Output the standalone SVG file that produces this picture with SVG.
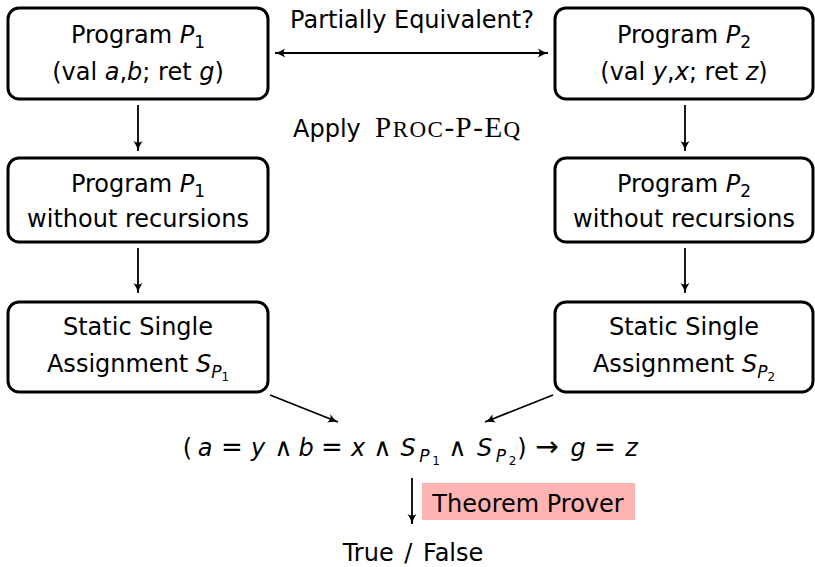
<svg xmlns="http://www.w3.org/2000/svg" width="815" height="567" viewBox="0 0 815 567">
<defs>
<marker id="ah" markerWidth="12" markerHeight="10" refX="10" refY="5" orient="auto" markerUnits="userSpaceOnUse">
<path d="M0,0.5 Q5,4 10,5 Q5,6 0,9.5 Q3,5 0,0.5 Z" fill="#000"/>
</marker>
<marker id="ahs" markerWidth="12" markerHeight="10" refX="0" refY="5" orient="auto" markerUnits="userSpaceOnUse">
<path d="M10,0.5 Q5,4 0,5 Q5,6 10,9.5 Q7,5 10,0.5 Z" fill="#000"/>
</marker>
</defs>
<style>
.box{fill:#fff;stroke:#000;stroke-width:3}
.t{font-family:"DejaVu Sans","Liberation Sans",sans-serif;font-size:24px;fill:#000}
.m{text-anchor:middle}
.i{font-style:italic}
.op{font-size:26px}
.w{font-size:25px}
.ar{font-size:28px}
.c{stroke:#000;stroke-width:1.8;fill:none;marker-end:url(#ah)}
</style>
<rect width="815" height="567" fill="#fff"/>
<g id="connectors">
<line x1="275" y1="53" x2="548" y2="53" class="c" style="marker-start:url(#ahs)"/>
<line x1="138" y1="105" x2="138" y2="151" class="c"/>
<line x1="138" y1="248" x2="138" y2="293" class="c"/>
<line x1="685" y1="105" x2="685" y2="151" class="c"/>
<line x1="685" y1="248" x2="685" y2="293" class="c"/>
<line x1="270" y1="395" x2="338" y2="422" class="c"/>
<line x1="553" y1="395" x2="485" y2="422" class="c"/>
<line x1="412" y1="478" x2="412" y2="524" class="c"/>
</g>
<g id="label-pe"><text x="412" y="28" class="t m">Partially Equivalent?</text></g>
<g id="label-apply"><text x="293" y="137" class="t">Apply<tspan x="375" font-family="'Liberation Serif',serif" font-size="29" letter-spacing="1.5">P<tspan font-size="23">ROC</tspan>-P-E<tspan font-size="23">Q</tspan></tspan></text></g>
<g id="p1">
<rect x="8" y="8" width="260" height="91" rx="11" class="box"/>
<text x="138" y="43" class="t m">Program <tspan class="i">P</tspan><tspan font-size="17" dy="5">1</tspan></text>
<text x="138" y="80" class="t m" font-size="25">(val <tspan class="i">a</tspan>,<tspan class="i">b</tspan>; ret <tspan class="i">g</tspan>)</text>
</g>
<g id="p2">
<rect x="555" y="8" width="258" height="91" rx="11" class="box"/>
<text x="684" y="43" class="t m">Program <tspan class="i">P</tspan><tspan font-size="17" dy="5">2</tspan></text>
<text x="684" y="80" class="t m" font-size="25">(val <tspan class="i">y</tspan>,<tspan class="i">x</tspan>; ret <tspan class="i">z</tspan>)</text>
</g>
<g id="p1nr">
<rect x="8" y="158" width="260" height="84" rx="11" class="box"/>
<text x="138" y="192" class="t m">Program <tspan class="i">P</tspan><tspan font-size="17" dy="5">1</tspan></text>
<text x="138" y="227" class="t m">without recursions</text>
</g>
<g id="p2nr">
<rect x="555" y="158" width="258" height="84" rx="11" class="box"/>
<text x="684" y="192" class="t m">Program <tspan class="i">P</tspan><tspan font-size="17" dy="5">2</tspan></text>
<text x="684" y="227" class="t m">without recursions</text>
</g>
<g id="ssa1">
<rect x="8" y="302" width="260" height="90" rx="11" class="box"/>
<text x="138" y="335" class="t m">Static Single</text>
<text x="138" y="372" class="t m">Assignment <tspan class="i">S</tspan><tspan class="i" font-size="17" dy="6">P</tspan><tspan font-size="12" dy="3">1</tspan></text>
</g>
<g id="ssa2">
<rect x="555" y="302" width="258" height="90" rx="11" class="box"/>
<text x="684" y="335" class="t m">Static Single</text>
<text x="684" y="372" class="t m">Assignment <tspan class="i">S</tspan><tspan class="i" font-size="17" dy="6">P</tspan><tspan font-size="12" dy="3">2</tspan></text>
</g>
<g id="formula">
<text y="456" class="t m"><tspan x="187.5">(</tspan><tspan x="205" class="i">a</tspan><tspan x="232" class="op">=</tspan><tspan x="258" class="i">y</tspan><tspan x="283.5" class="w">∧</tspan><tspan x="306" class="i">b</tspan><tspan x="332" class="op">=</tspan><tspan x="358" class="i">x</tspan><tspan x="382.5" class="w">∧</tspan><tspan x="408" class="i">S</tspan><tspan x="424.5" class="i" font-size="17" dy="6">P</tspan><tspan x="436" font-size="12" dy="3">1</tspan><tspan x="457.5" class="w" dy="-9">∧</tspan><tspan x="484.5" class="i">S</tspan><tspan x="501" class="i" font-size="17" dy="6">P</tspan><tspan x="512.5" font-size="12" dy="3">2</tspan><tspan x="522" dy="-9">)</tspan><tspan x="547" class="ar">→</tspan><tspan x="578" class="i">g</tspan><tspan x="605" class="op">=</tspan><tspan x="631.5" class="i">z</tspan></text>
</g>
<g id="prover">
<rect x="422" y="483" width="213" height="37" fill="#ffb3b3"/>
<text x="528" y="512" class="t m">Theorem Prover</text>
</g>
<g id="result"><text x="413" y="561" class="t m" word-spacing="3">True / False</text></g>
</svg>
